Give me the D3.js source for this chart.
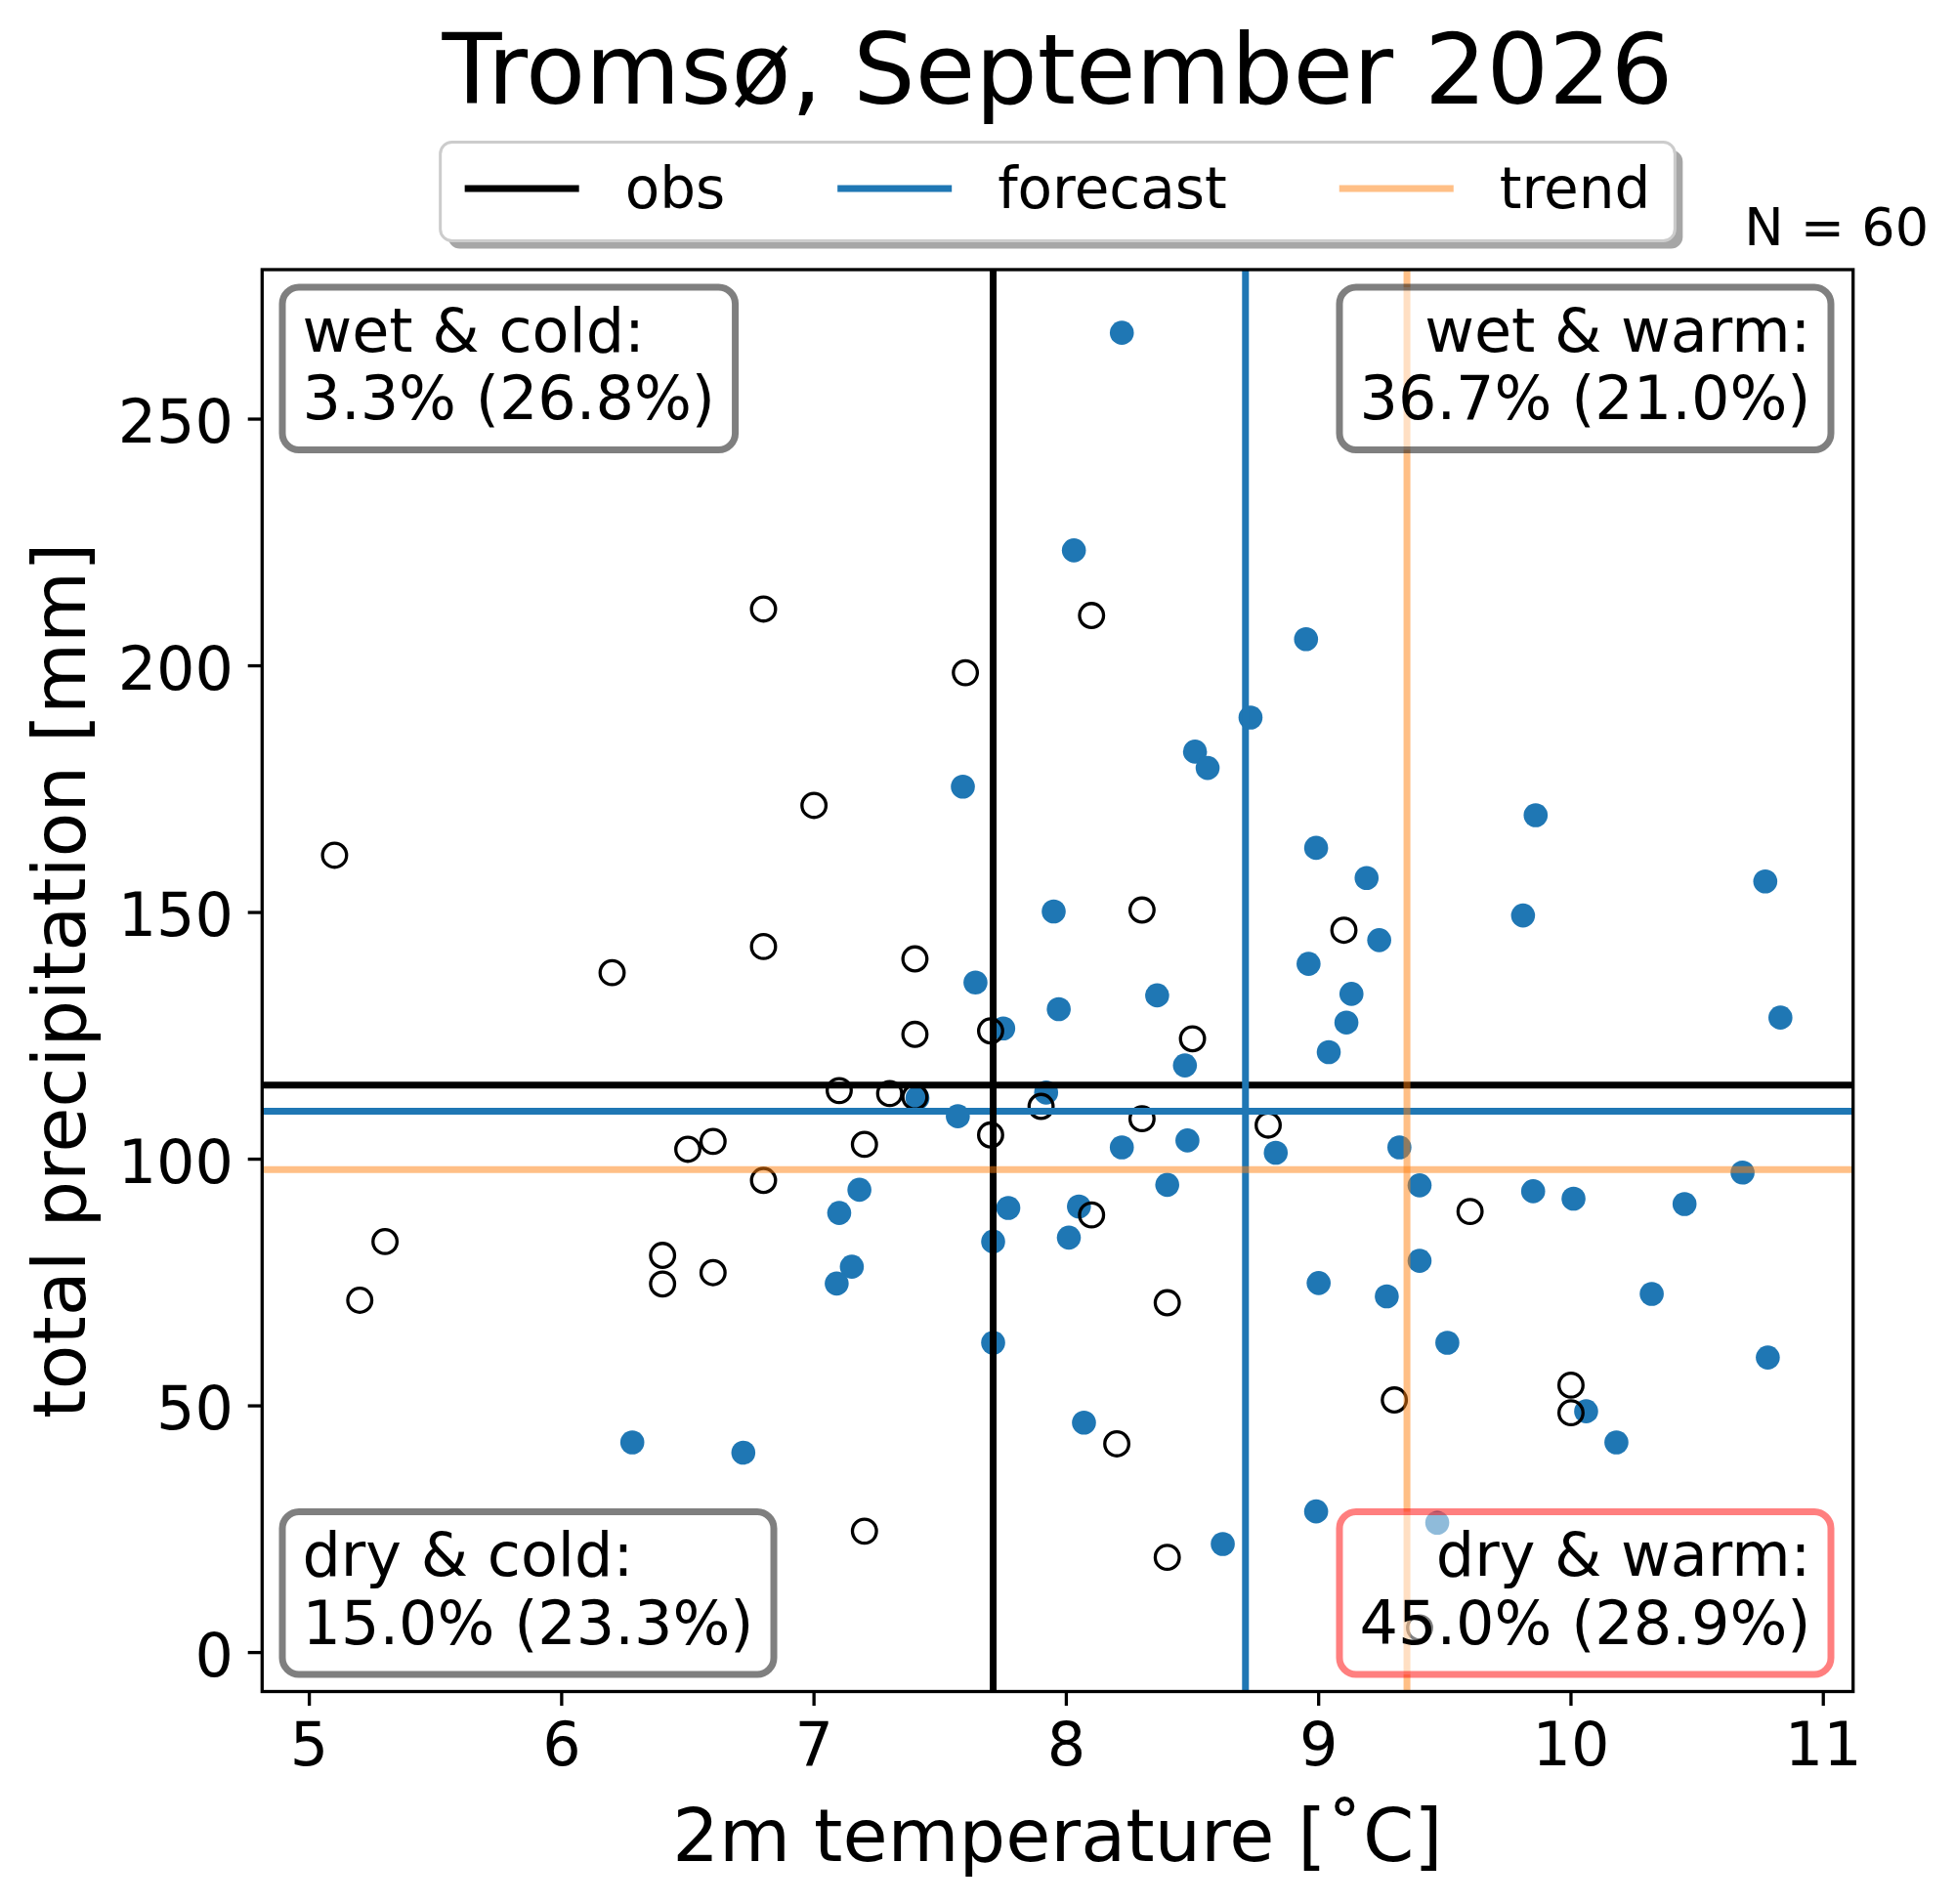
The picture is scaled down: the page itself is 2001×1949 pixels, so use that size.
<!DOCTYPE html>
<html>
<head>
<meta charset="utf-8">
<script src="https://cdn.jsdelivr.net/npm/d3@7"></script>
<style>
    body { margin: 0; background: white; }
    text { font-family: "DejaVu Sans", sans-serif; }
</style>
</head>
<body>
<div id="chart"></div>
<script>
// observed 2m temperature / precipitation
var obsTemp = [5.1, 5.2, 5.3, 6.2, 6.4, 6.4, 6.5, 6.6, 6.6, 6.8, 6.8, 6.8, 7.0, 7.1, 7.2, 7.2, 7.3, 7.4, 7.4, 7.4,
    7.6, 7.7, 7.7, 7.9, 8.1, 8.1, 8.2, 8.3, 8.3, 8.4, 8.4, 8.5, 8.8, 9.1, 9.3, 9.4, 9.6, 10.0, 10.0];
var obsPrecip = [161.6, 71.4, 83.3, 137.8, 80.5, 74.7, 102.0, 103.6, 77.0, 211.5, 143.1, 95.7, 171.7, 113.9, 103.0, 24.6, 113.3, 140.6, 125.3, 112.6,
    198.6, 126.0, 104.9, 110.7, 210.2, 88.7, 42.3, 150.5, 108.2, 70.9, 19.3, 124.4, 106.9, 146.4, 51.2, 5.0, 89.4, 54.2, 48.6];

// forecast members
var fcTemp = [8.22, 8.03, 8.95, 8.73, 8.51, 8.56, 7.59, 9.86, 8.99, 9.19, 10.77, 7.95, 9.81, 9.24, 8.96, 7.64, 8.36, 9.13, 7.97, 7.75,
    9.11, 10.83, 9.04, 8.47, 7.92, 7.41, 7.57, 8.48, 8.22, 9.32, 8.83, 10.68, 8.40, 9.40, 7.18, 9.85, 10.01, 10.45, 8.05, 7.77,
    7.10, 8.01, 7.71, 9.40, 7.15, 7.09, 9.00, 10.32, 9.27, 7.71, 9.51, 10.78, 10.06, 8.07, 6.28, 10.18, 6.72, 8.99, 9.47, 8.62];
var fcPrecip = [267.5, 223.4, 205.4, 189.5, 182.6, 179.3, 175.5, 169.7, 163.1, 157.0, 156.3, 150.2, 149.4, 144.4, 139.6, 135.8, 133.2, 133.5, 130.4, 126.5,
    127.7, 128.7, 121.7, 119.0, 113.5, 112.4, 108.7, 103.8, 102.4, 102.4, 101.3, 97.3, 94.8, 94.7, 93.8, 93.5, 92.0, 90.9, 90.4, 90.1,
    89.1, 84.1, 83.3, 79.4, 78.2, 74.8, 74.9, 72.7, 72.2, 62.8, 62.8, 59.8, 48.9, 46.6, 42.6, 42.6, 40.5, 28.6, 26.3, 22.0];

// reference lines: [temperature, precipitation]
var lineNames = ["obs", "forecast", "trend"];
var lineTemp = [7.71, 8.71, 9.35];
var linePrecip = [115.0, 109.7, 97.9];

// quadrant boxes
var quadLabels = ["wet & cold:", "wet & warm:", "dry & cold:", "dry & warm:"];
var quadValues = ["3.3% (26.8%)", "36.7% (21.0%)", "15.0% (23.3%)", "45.0% (28.9%)"];

var xTicks = [5, 6, 7, 8, 9, 10, 11];
var yTicks = [0, 50, 100, 150, 200, 250];

var width = 2001, height = 1949;
var plotL = 268.3, plotR = 1896.7, plotT = 276, plotB = 1731.5;

var svg = d3.select("#chart").append("svg")
    .attr("width", width)
    .attr("height", height);

var x = d3.scaleLinear().domain([4.813, 11.118]).range([plotL, plotR]);
var y = d3.scaleLinear().domain([-7.9, 280.3]).range([plotB, plotT]);

var colors = ["#000000", "#1f77b4", "#ff7f0e"];
var opac = [1, 1, 0.5];

// forecast dots
svg.append("g").selectAll("circle")
    .data(fcTemp)
    .join("circle")
    .attr("cx", d => x(d))
    .attr("cy", (d, i) => y(fcPrecip[i]))
    .attr("r", 12.3)
    .style("fill", "#1f77b4");

// observations, open circles
svg.append("g").selectAll("circle")
    .data(obsTemp)
    .join("circle")
    .attr("cx", d => x(d))
    .attr("cy", (d, i) => y(obsPrecip[i]))
    .attr("r", 12.3)
    .style("fill", "none")
    .style("stroke", "#000")
    .style("stroke-width", "3.3px");

// horizontal + vertical reference lines (trend drawn last, transparent)
function hline(i) {
    svg.append("line")
        .attr("x1", plotL).attr("x2", plotR)
        .attr("y1", y(linePrecip[i])).attr("y2", y(linePrecip[i]))
        .style("stroke", colors[i]).style("stroke-width", "7px")
        .style("stroke-opacity", opac[i]);
}
function vline(i) {
    svg.append("line")
        .attr("x1", x(lineTemp[i])).attr("x2", x(lineTemp[i]))
        .attr("y1", plotT).attr("y2", plotB)
        .style("stroke", colors[i]).style("stroke-width", "7px")
        .style("stroke-opacity", opac[i]);
}
hline(0); hline(1);
vline(0); vline(1);
hline(2); vline(2);

// text boxes in the corners
function quadBox(k, alignRight, atTop, edge) {
    var g = svg.append("g");
    var boxTop = atTop ? 294 : 1547.5;
    var boxH = 166.5;
    var tx = alignRight ? 1853.5 : 309.5;
    var txt = g.append("text")
        .attr("text-anchor", alignRight ? "end" : "start")
        .style("font-size", "62px")
        .style("fill", "black");
    txt.append("tspan").attr("x", tx).attr("y", boxTop + 65.5).text(quadLabels[k]);
    txt.append("tspan").attr("x", tx).attr("y", boxTop + 135).text(quadValues[k]);
    var tw = txt.node().getBBox().width;
    var bx = alignRight ? tx - tw - 20.5 : tx - 20.5;
    g.insert("rect", "text")
        .attr("x", bx)
        .attr("y", boxTop)
        .attr("width", tw + 41)
        .attr("height", boxH)
        .attr("rx", 17)
        .style("fill", "white")
        .style("fill-opacity", 0.5)
        .style("stroke", edge)
        .style("stroke-opacity", 0.5)
        .style("stroke-width", "7px");
}
quadBox(0, false, true, "black");
quadBox(1, true, true, "black");
quadBox(2, false, false, "black");
quadBox(3, true, false, "red");

// frame
svg.append("rect")
    .attr("x", plotL).attr("y", plotT)
    .attr("width", plotR - plotL).attr("height", plotB - plotT)
    .style("fill", "none")
    .style("stroke", "#000")
    .style("stroke-width", "3.3px");

// x axis
var xAxis = svg.append("g");
xAxis.selectAll("line")
    .data(xTicks)
    .join("line")
    .attr("x1", d => x(d)).attr("x2", d => x(d))
    .attr("y1", plotB).attr("y2", plotB + 14.6)
    .style("stroke", "#000").style("stroke-width", "3.3px");
xAxis.selectAll("text")
    .data(xTicks)
    .join("text")
    .attr("x", d => x(d))
    .attr("y", 1807)
    .attr("text-anchor", "middle")
    .style("font-size", "62px")
    .text(d => d);

// y axis
var yAxis = svg.append("g");
yAxis.selectAll("line")
    .data(yTicks)
    .join("line")
    .attr("x1", plotL - 14.6).attr("x2", plotL)
    .attr("y1", d => y(d)).attr("y2", d => y(d))
    .style("stroke", "#000").style("stroke-width", "3.3px");
yAxis.selectAll("text")
    .data(yTicks)
    .join("text")
    .attr("x", 239)
    .attr("y", d => y(d) + 24)
    .attr("text-anchor", "end")
    .style("font-size", "62px")
    .text(d => d);

// axis labels
svg.append("text")
    .attr("x", (plotL + plotR) / 2)
    .attr("y", 1905)
    .attr("text-anchor", "middle")
    .style("font-size", "75px")
    .text("2m temperature [˚C]");

svg.append("text")
    .attr("transform", "translate(87," + (plotT + plotB) / 2 + ") rotate(-90)")
    .attr("text-anchor", "middle")
    .style("font-size", "75px")
    .text("total precipitation [mm]");

// title
svg.append("text")
    .attr("x", (plotL + plotR) / 2)
    .attr("y", 106)
    .attr("text-anchor", "middle")
    .style("font-size", "100px")
    .text("Tromsø, September 2026");

svg.append("text")
    .attr("x", 1974)
    .attr("y", 251)
    .attr("text-anchor", "end")
    .style("font-size", "54px")
    .text("N = 60");

// legend
var leg = svg.append("g");
var legY = 196;
var handleLen = 117, handleGap = 47, colGap = 115;
var lx = 0;
var items = [];
lineNames.forEach(function(name, i) {
    leg.append("line")
        .attr("x1", lx).attr("x2", lx + handleLen)
        .attr("y1", legY - 3).attr("y2", legY - 3)
        .style("stroke", colors[i]).style("stroke-width", "7px")
        .style("stroke-opacity", opac[i]);
    var t = leg.append("text")
        .attr("x", lx + handleLen + handleGap)
        .attr("y", legY + 17)
        .style("font-size", "58px")
        .text(name);
    var w = t.node().getComputedTextLength();
    items.push(lx + handleLen + handleGap + w);
    lx = lx + handleLen + handleGap + w + colGap;
});
var legPad = 25;
var contentW = items[items.length - 1];
var legW = contentW + 2 * legPad;
var legX = (plotL + plotR) / 2 - legW / 2;
leg.attr("transform", "translate(" + (legX + legPad) + ",0)");

// shadow + frame behind the entries
leg.insert("rect", ":first-child")
    .attr("x", -legPad).attr("y", 145.5)
    .attr("width", legW).attr("height", 101)
    .attr("rx", 12)
    .style("fill", "white")
    .style("stroke", "#cccccc")
    .style("stroke-width", "3px");
leg.insert("rect", ":first-child")
    .attr("x", -legPad + 8).attr("y", 145.5 + 8)
    .attr("width", legW).attr("height", 101)
    .attr("rx", 12)
    .style("fill", "#a6a6a6");
</script>
</body>
</html>
